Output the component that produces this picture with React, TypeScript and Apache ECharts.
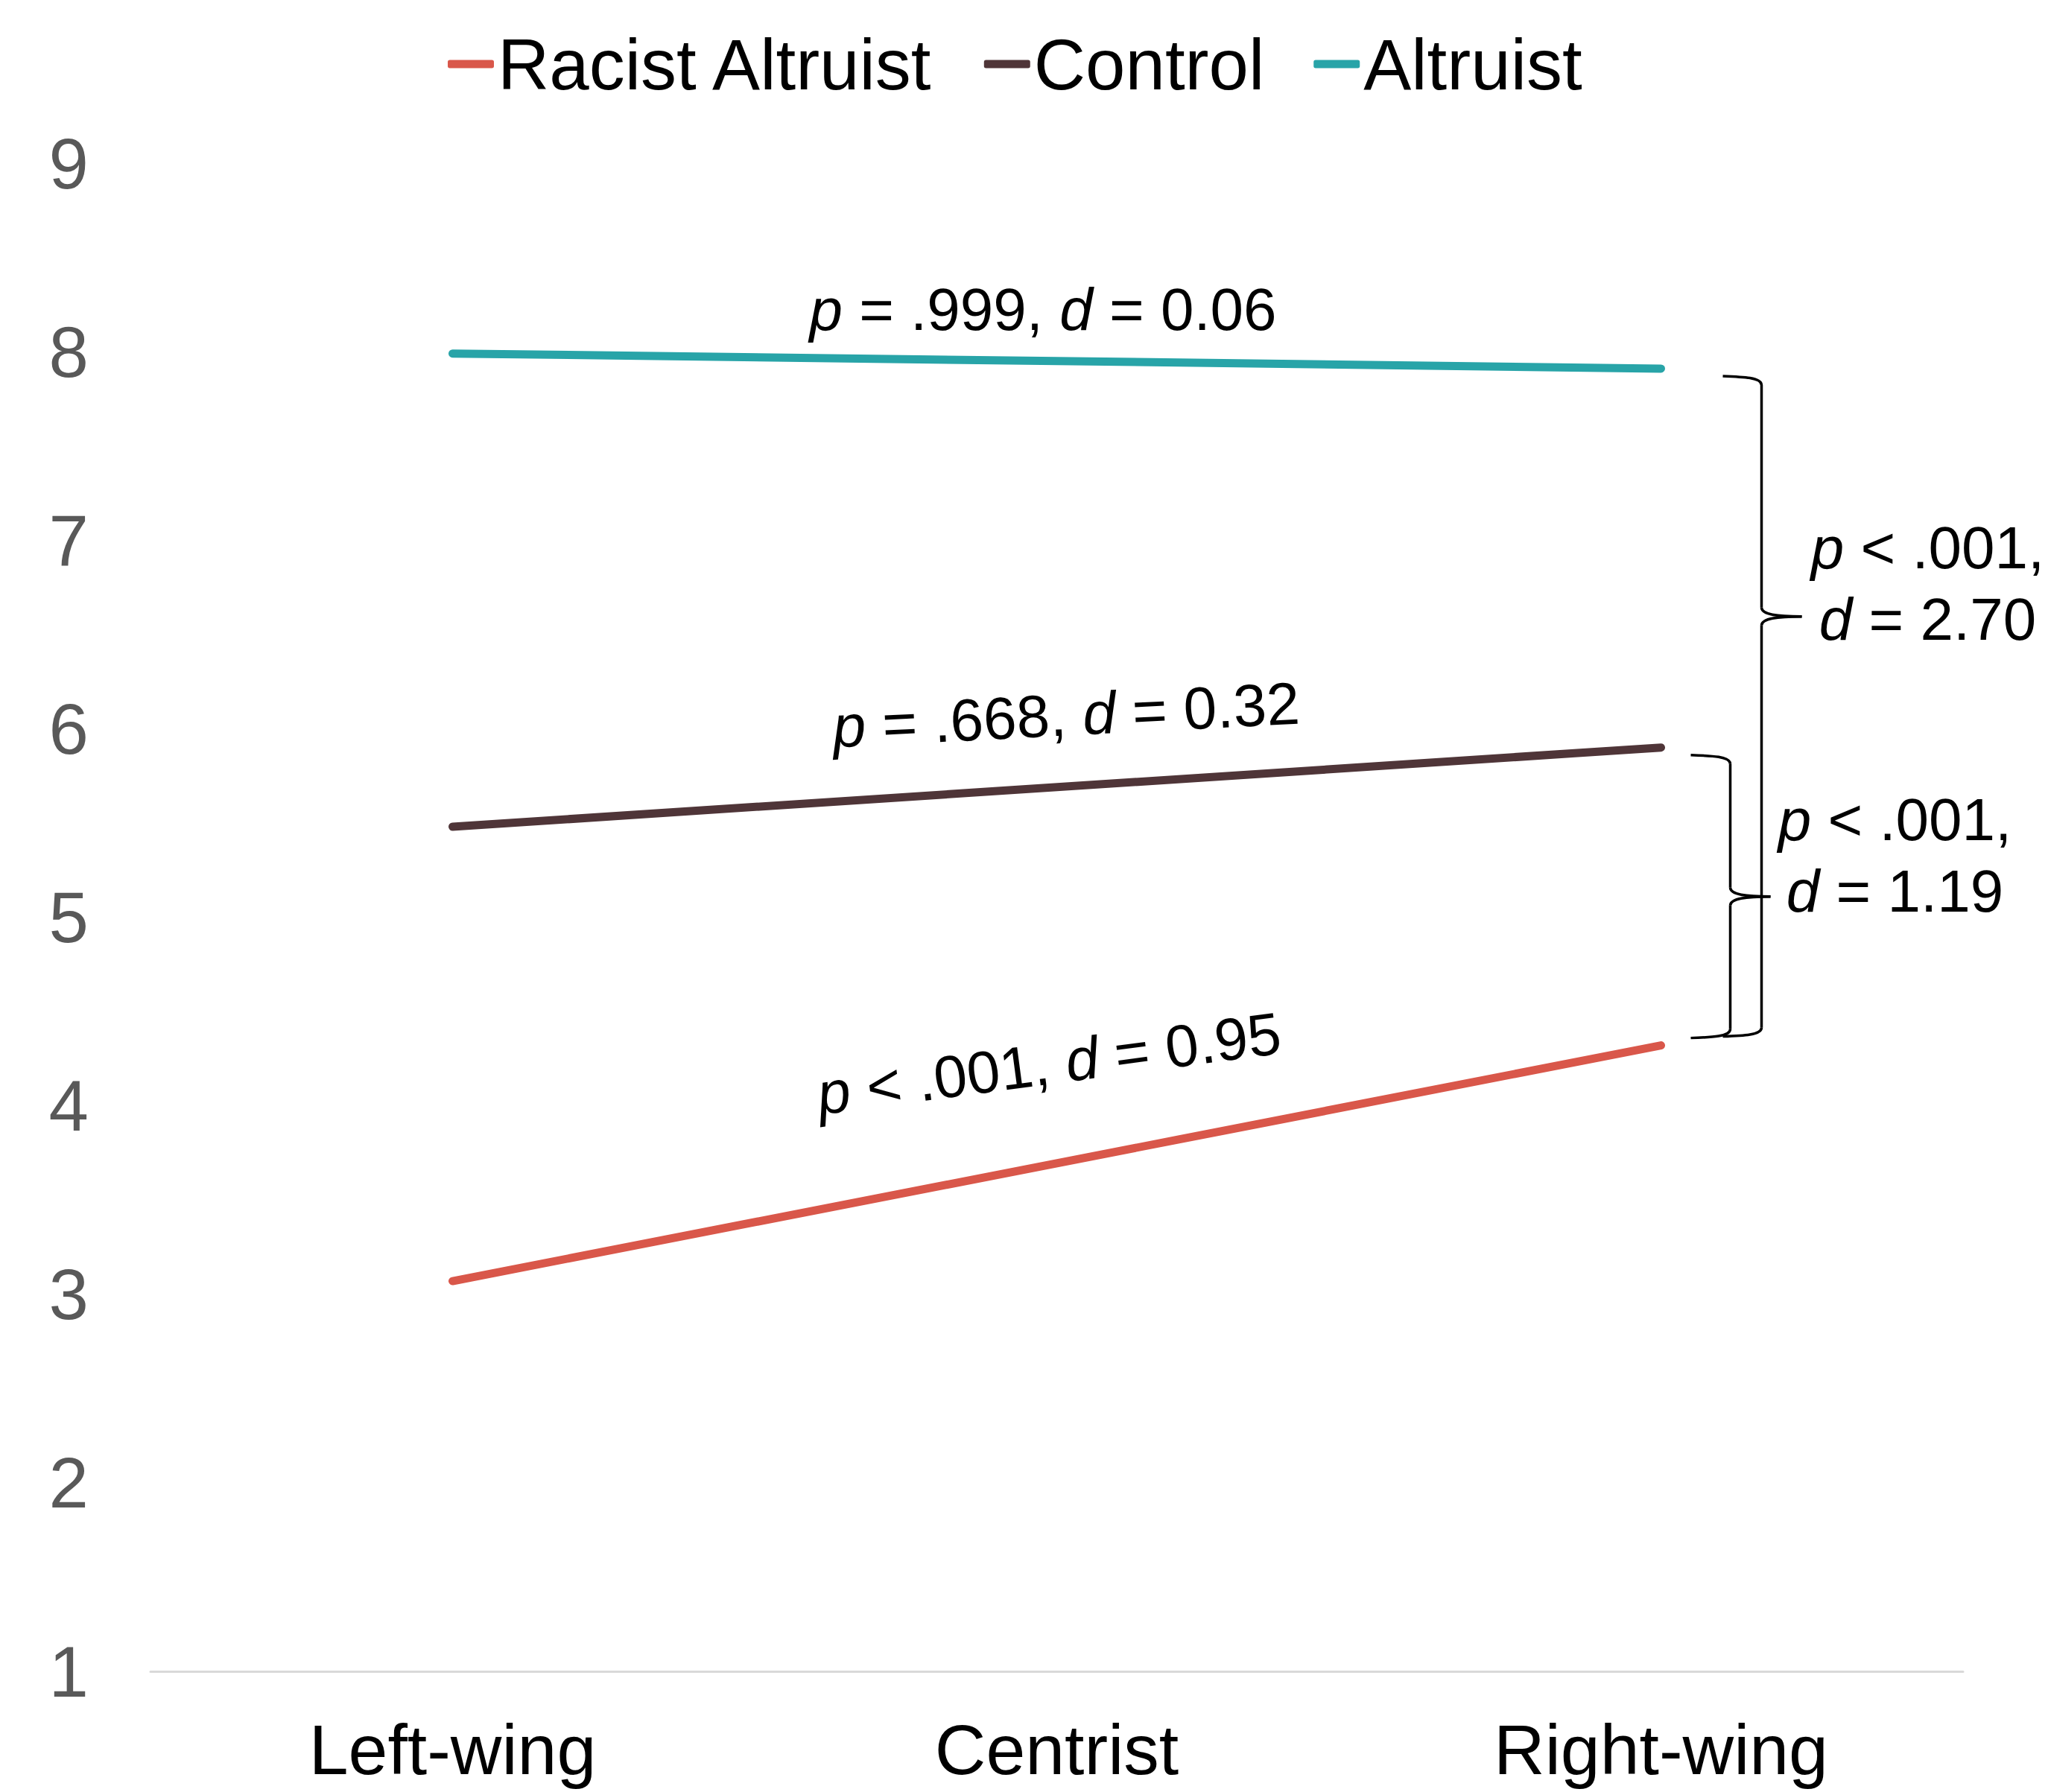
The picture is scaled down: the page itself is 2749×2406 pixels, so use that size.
import React, { useEffect, useRef } from "react";
import * as echarts from "echarts";

// ---- data ----
const categories = ["Left-wing", "Centrist", "Right-wing"];
const seriesNames = ["Racist Altruist", "Control", "Altruist"];
const racistAltruistValues = [3.07, null, 4.32];
const controlValues = [5.48, null, 5.9];
const altruistValues = [7.99, null, 7.91];
const seriesColors = ["#D9574A", "#4F3538", "#28A4A8"];
const yMin = 1;
const yMax = 9;
const yInterval = 1;

// slope annotations (text only)
const slopeTexts = [
  "{i|p} = .999, {i|d} = 0.06",
  "{i|p} = .668, {i|d} = 0.32",
  "{i|p} < .001, {i|d} = 0.95",
];
const braceBigTexts = ["{i|p} < .001,", "{i|d} = 2.70"];
const braceSmallTexts = ["{i|p} < .001,", "{i|d} = 1.19"];

const FONT = "'Liberation Sans', Arial, Helvetica, sans-serif";

function richText(text: string, x: number, y: number, size: number, rotDeg = 0) {
  return {
    type: "text",
    x,
    y,
    rotation: (rotDeg * Math.PI) / 180,
    silent: true,
    style: {
      text,
      fill: "#000",
      fontSize: size,
      fontFamily: FONT,
      align: "center",
      verticalAlign: "middle",
      rich: {
        i: { fontStyle: "italic", fontSize: size, fontFamily: FONT, fill: "#000" },
      },
    },
  };
}

function brace(tipX: number, vx: number, midX: number, top: number, mid: number, bottom: number, r: number) {
  const st = { stroke: "#000", lineWidth: 3.5, fill: null };
  return [
    { type: "bezierCurve", silent: true, shape: { x1: tipX, y1: top, cpx1: vx - r * 2, cpy1: top + 1, cpx2: vx, cpy2: top + 2, x2: vx, y2: top + r }, style: st },
    { type: "line", silent: true, shape: { x1: vx, y1: top + r, x2: vx, y2: mid - r }, style: st },
    { type: "bezierCurve", silent: true, shape: { x1: vx, y1: mid - r, cpx1: vx, cpy1: mid - 2, cpx2: vx + r * 2, cpy2: mid, x2: midX, y2: mid }, style: st },
    { type: "bezierCurve", silent: true, shape: { x1: midX, y1: mid, cpx1: vx + r * 2, cpy1: mid, cpx2: vx, cpy2: mid + 2, x2: vx, y2: mid + r }, style: st },
    { type: "line", silent: true, shape: { x1: vx, y1: mid + r, x2: vx, y2: bottom - r }, style: st },
    { type: "bezierCurve", silent: true, shape: { x1: vx, y1: bottom - r, cpx1: vx, cpy1: bottom - 2, cpx2: vx - r * 2, cpy2: bottom - 1, x2: tipX, y2: bottom }, style: st },
  ];
}

export default function App() {
  const ref = useRef<HTMLDivElement>(null);

  useEffect(() => {
    document.body.style.margin = "0";
    const chart = echarts.init(ref.current!, null, { renderer: "svg" });
    const values = [racistAltruistValues, controlValues, altruistValues];
    const option: any = {
      animation: false,
      backgroundColor: "#fff",
      legend: {
        data: seriesNames,
        left: 596,
        top: 33,
        icon: "roundRect",
        itemWidth: 62,
        itemHeight: 11,
        itemGap: 66,
        textStyle: { fontSize: 96, color: "#000", fontFamily: FONT },
      },
      grid: { left: 202, right: 114, top: 219, bottom: 162 },
      xAxis: {
        type: "category",
        data: categories,
        boundaryGap: true,
        axisLine: { show: true, lineStyle: { color: "#D9D9D9", width: 3 } },
        axisTick: { show: false },
        axisLabel: { fontSize: 95, color: "#000", fontFamily: FONT, margin: 57 },
        splitLine: { show: false },
      },
      yAxis: {
        type: "value",
        min: yMin,
        max: yMax,
        interval: yInterval,
        axisLine: { show: false },
        axisTick: { show: false },
        splitLine: { show: false },
        axisLabel: { fontSize: 96, color: "#595959", fontFamily: FONT, margin: 83 },
      },
      series: seriesNames.map((name, i) => ({
        name,
        type: "line",
        data: values[i],
        connectNulls: true,
        showSymbol: false,
        symbol: "none",
        color: seriesColors[i],
        itemStyle: { color: seriesColors[i] },
        lineStyle: { color: seriesColors[i], width: 11, cap: "round" },
      })),
    };
    chart.setOption(option);

    const p = (v: number) => chart.convertToPixel({ gridIndex: 0 }, ["Right-wing", v]) as number[];
    const alt = p(altruistValues[2] as number);
    const ctl = p(controlValues[2] as number);
    const rac = p(racistAltruistValues[2] as number);
    const px = alt[0];

    const bigTop = alt[1] + 10;
    const bigBottom = rac[1] - 12;
    const bigMid = bigTop + 0.364 * (bigBottom - bigTop);
    const smallTop = ctl[1] + 10;
    const smallBottom = rac[1] - 10;
    const smallMid = (smallTop + smallBottom) / 2;

    const graphic: any[] = [
      richText(slopeTexts[0], 1400, 415, 80, 0),
      richText(slopeTexts[1], 1431, 960, 80, 2.9),
      richText(slopeTexts[2], 1408, 1428, 80, 7.6),
      ...brace(px + 83, px + 135, px + 189, bigTop, bigMid, bigBottom, 12),
      ...brace(px + 40, px + 93, px + 147, smallTop, smallMid, smallBottom, 12),
      richText(braceBigTexts[0], px + 358, bigMid - 92, 80),
      richText(braceBigTexts[1], px + 358, bigMid + 4, 80),
      richText(braceSmallTexts[0], px + 314, smallMid - 103, 80),
      richText(braceSmallTexts[1], px + 314, smallMid - 7, 80),
    ];
    chart.setOption({ graphic });

    return () => chart.dispose();
  }, []);

  return (
    <div
      ref={ref}
      style={{ position: "absolute", left: 0, top: 0, width: 2749, height: 2406 }}
    />
  );
}
